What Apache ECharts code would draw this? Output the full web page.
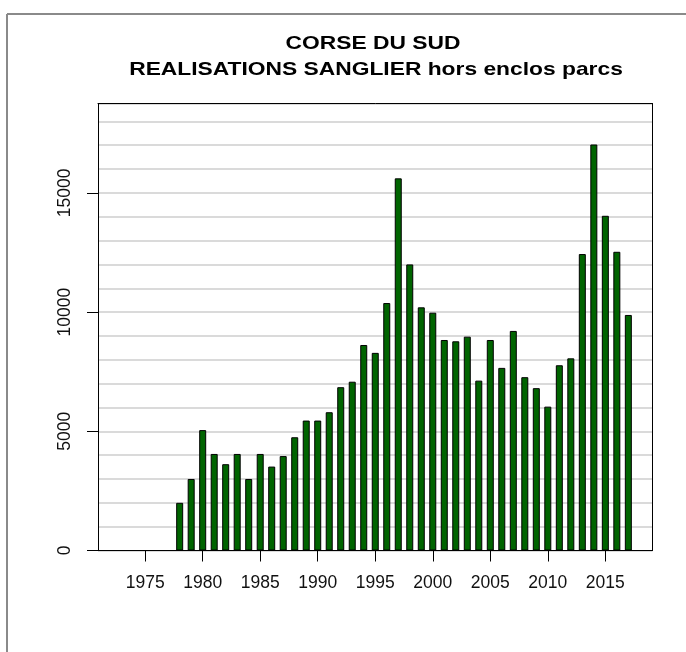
<!DOCTYPE html>
<html>
<head>
<meta charset="utf-8">
<title>CORSE DU SUD</title>
<script src="https://cdn.jsdelivr.net/npm/echarts@6/dist/echarts.min.js"></script>
<style>
  html, body { margin: 0; padding: 0; background: #fff; }
  #chart { width: 686px; height: 652px; }
</style>
</head>
<body>
<div id="chart"></div>
<script>
// Wild boar harvest per season, Corse du Sud (outside enclosures / parks)
const years = [
  1978, 1979, 1980, 1981, 1982, 1983, 1984, 1985, 1986, 1987,
  1988, 1989, 1990, 1991, 1992, 1993, 1994, 1995, 1996, 1997,
  1998, 1999, 2000, 2001, 2002, 2003, 2004, 2005, 2006, 2007,
  2008, 2009, 2010, 2011, 2012, 2013, 2014, 2015, 2016, 2017
];
const harvest = [
  2000, 3000, 5050, 4050, 3620, 4050, 3000, 4050, 3520, 3960,
  4750, 5450, 5450, 5800, 6850, 7080, 8620, 8290, 10380, 15610,
  12000, 10200, 9975, 8830, 8775, 8970, 7125, 8830, 7660, 9210,
  7270, 6810, 6035, 7770, 8060, 12435, 17030, 14040, 12530, 9880
];
const yearTicks = [1975, 1980, 1985, 1990, 1995, 2000, 2005, 2010, 2015];
const valueTicks = [0, 5000, 10000, 15000];
const titleLines = ['CORSE DU SUD', 'REALISATIONS SANGLIER hors enclos parcs'];

const FONT = "'Liberation Sans', Arial, Helvetica, sans-serif";
const X_MIN = 1970.9, X_MAX = 2019.1;
const Y_MIN = 0, Y_MAX = 18750;

const chart = echarts.init(document.getElementById('chart'), null, { renderer: 'canvas' });

const seriesData = years.map((y, i) => [y, harvest[i]]);
const plain = v => String(Math.round(v));

const frameLine = { show: true, onZero: false, lineStyle: { color: '#000', width: 1 } };
const hidden = { show: false };

chart.setOption({
  animation: false,
  backgroundColor: '#fff',
  graphic: [
    { type: 'line', shape: { x1: 7, y1: 14, x2: 686, y2: 14 },
      style: { stroke: '#8a8a8a', lineWidth: 2 } },
    { type: 'line', shape: { x1: 7, y1: 14, x2: 7, y2: 652 },
      style: { stroke: '#8a8a8a', lineWidth: 2 } },
    { type: 'text', x: 373, y: 44, scaleX: 1.2,
      style: { text: titleLines[0], font: 'bold 19px ' + FONT, fill: '#000',
               textAlign: 'center', textVerticalAlign: 'middle' } },
    { type: 'text', x: 376, y: 69.5, scaleX: 1.2,
      style: { text: titleLines[1], font: 'bold 19px ' + FONT, fill: '#000',
               textAlign: 'center', textVerticalAlign: 'middle' } }
  ],
  grid: { left: 98, top: 103.5, width: 554.5, height: 447, containLabel: false },
  xAxis: [
    {
      type: 'value', position: 'bottom', min: X_MIN, max: X_MAX,
      axisLine: frameLine,
      splitLine: hidden,
      axisTick: { show: true, customValues: yearTicks, length: 11,
                  lineStyle: { color: '#000', width: 1 } },
      axisLabel: { show: true, customValues: yearTicks, margin: 24, formatter: plain,
                   fontSize: 17.5, fontFamily: FONT, color: '#111' }
    },
    {
      type: 'value', position: 'top', min: X_MIN, max: X_MAX,
      axisLine: frameLine, axisTick: hidden, axisLabel: hidden, splitLine: hidden
    }
  ],
  yAxis: [
    {
      // horizontal grid every 1000
      type: 'value', position: 'left', min: Y_MIN, max: Y_MAX, interval: 1000,
      axisLine: frameLine, axisTick: hidden, axisLabel: hidden,
      splitLine: { show: true, lineStyle: { color: '#dadada', width: 2 } }
    },
    {
      // labelled ticks
      type: 'value', position: 'left', min: Y_MIN, max: Y_MAX,
      axisLine: frameLine, splitLine: hidden,
      axisTick: { show: true, customValues: valueTicks, length: 11,
                  lineStyle: { color: '#000', width: 1 } },
      axisLabel: { show: true, customValues: valueTicks, rotate: 90, margin: 24,
                   formatter: plain, fontSize: 17.5, fontFamily: FONT, color: '#111' }
    },
    {
      type: 'value', position: 'right', min: Y_MIN, max: Y_MAX,
      axisLine: frameLine, axisTick: hidden, axisLabel: hidden, splitLine: hidden
    }
  ],
  series: [
    {
      type: 'bar',
      xAxisIndex: 0, yAxisIndex: 0,
      data: seriesData,
      barWidth: 7,
      itemStyle: { color: '#006400', borderColor: '#000', borderWidth: 1 },
      emphasis: { disabled: true },
      z: 5
    }
  ]
});
</script>
</body>
</html>
